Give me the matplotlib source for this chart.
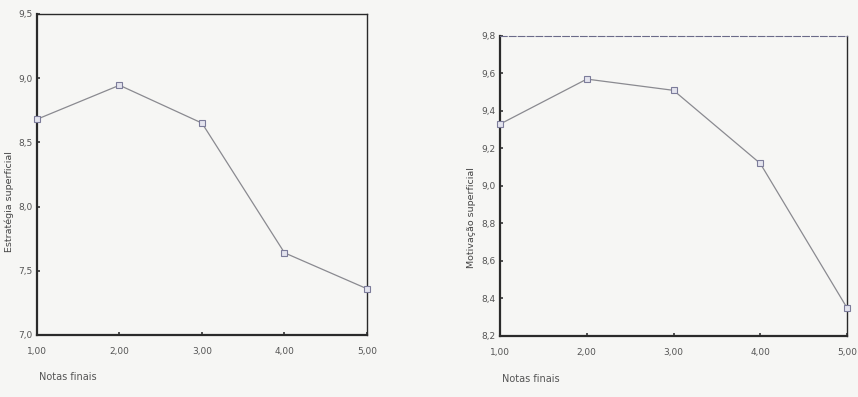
import matplotlib.pyplot as plt

notas = [1, 2, 3, 4, 5]
notas_labels = ["1,00", "2,00", "3,00", "4,00", "5,00"]

estrategia = [8.68, 8.945, 8.65, 7.64, 7.36]
estrategia_ticks = [7.0, 7.5, 8.0, 8.5, 9.0, 9.5]
estrategia_labels = ["7,0", "7,5", "8,0", "8,5", "9,0", "9,5"]

motivacao = [9.33, 9.57, 9.51, 9.12, 8.35]
motivacao_ticks = [8.2, 8.4, 8.6, 8.8, 9.0, 9.2, 9.4, 9.6, 9.8]
motivacao_labels = ["8,2", "8,4", "8,6", "8,8", "9,0", "9,2", "9,4", "9,6", "9,8"]

bg = "#f6f6f4"
line_c = "#8a8a90"

fig = plt.figure(figsize=(8.58, 3.97), dpi=100, facecolor=bg)

ax1 = fig.add_axes([0.0431, 0.1562, 0.3846, 0.8086], facecolor=bg)
ax2 = fig.add_axes([0.5828, 0.1537, 0.4044, 0.7557], facecolor=bg)

panels = [
    (ax1, estrategia, estrategia_ticks, estrategia_labels),
    (ax2, motivacao, motivacao_ticks, motivacao_labels),
]

for ax, vals, yt, yl in panels:
    ax.plot(notas, vals, color=line_c, lw=0.9, marker="s", ms=5,
            mfc="#e4e4ee", mec="#7c7c9a", mew=0.8, clip_on=False, zorder=3)
    ax.set_xlim(1, 5)
    ax.set_ylim(yt[0], yt[-1])
    ax.set_xticks(notas)
    ax.set_xticklabels(notas_labels)
    ax.set_yticks(yt)
    ax.set_yticklabels(yl)
    ax.tick_params(axis="both", labelsize=6.5, colors="#333333", length=2.5,
                   width=1.2, direction="in")
    ax.tick_params(axis="x", pad=9, labelcolor="#555555")
    ax.tick_params(axis="y", pad=3, labelcolor="#555555")
    for sp in ax.spines.values():
        sp.set_color("#2a2a2a")
        sp.set_linewidth(1.0)
    ax.spines["bottom"].set_linewidth(1.6)
    ax.spines["left"].set_linewidth(1.6)

# borda superior tracejada no segundo grafico (como no scan)
ax2.spines["top"].set_linestyle((0, (6, 2)))
ax2.spines["top"].set_color("#6a6a88")
ax2.spines["top"].set_linewidth(0.8)

fig.text(0.011, 0.62, "Estratégia superficial", rotation=90, fontsize=6.8,
         color="#444444", ha="center", va="top")
fig.text(0.549, 0.58, "Motivação superficial", rotation=90, fontsize=6.8,
         color="#444444", ha="center", va="top")

fig.text(0.045, 0.042, "Notas finais", fontsize=7, color="#555555")
fig.text(0.585, 0.037, "Notas finais", fontsize=7, color="#555555")

fig.savefig("out.png", dpi=100, facecolor=bg)
